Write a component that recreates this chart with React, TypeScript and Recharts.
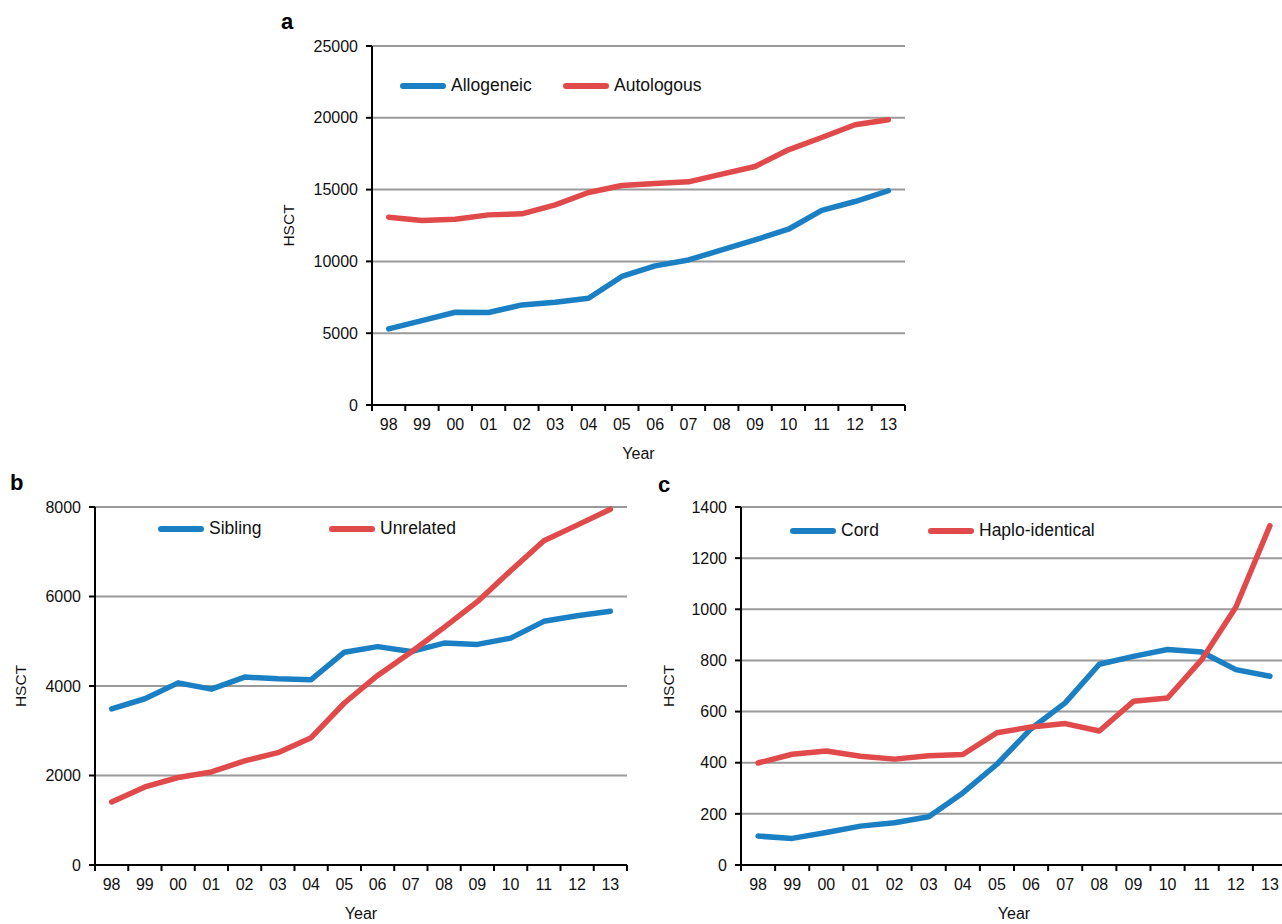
import React from 'react';
import { LineChart, Line, XAxis, YAxis, CartesianGrid, Legend } from 'recharts';

const years = ['98', '99', '00', '01', '02', '03', '04', '05', '06', '07', '08', '09', '10', '11', '12', '13'];

const allogeneic = [5300, 5880, 6460, 6440, 6970, 7160, 7430, 8950, 9690, 10100, 10800, 11500, 12240, 13550, 14170, 14920];
const autologous = [13080, 12850, 12940, 13240, 13310, 13940, 14800, 15290, 15430, 15540, 16080, 16610, 17770, 18630, 19520, 19870];

const sibling = [3490, 3715, 4070, 3930, 4200, 4160, 4140, 4755, 4880, 4770, 4960, 4930, 5070, 5445, 5570, 5670];
const unrelated = [1410, 1745, 1955, 2080, 2325, 2510, 2845, 3620, 4235, 4755, 5310, 5885, 6575, 7245, 7595, 7950];

const cord = [113, 104, 127, 152, 165, 189, 282, 394, 533, 634, 785, 816, 843, 833, 764, 738];
const haplo = [399, 433, 446, 425, 414, 427, 432, 517, 540, 553, 524, 640, 653, 803, 1008, 1327];

const ticksA = [0, 5000, 10000, 15000, 20000, 25000];
const ticksB = [0, 2000, 4000, 6000, 8000];
const ticksC = [0, 200, 400, 600, 800, 1000, 1200, 1400];

const BLUE = '#1b80c3';
const RED = '#e04a4a';
const FONT = '"Liberation Sans", Arial, sans-serif';

const bounds = Array.from({ length: years.length + 1 }, (_, i) => i);

function build(a: number[], b: number[], ka: string, kb: string) {
  return years.map((y, i) => ({ x: i + 0.5, year: y, [ka]: a[i], [kb]: b[i] }));
}

function YearTick(props: any) {
  const { x, y, payload, half } = props;
  if (payload.value >= years.length) return null;
  return (
    <text x={x + half} y={y + 17} textAnchor="middle" fontSize={16} fontFamily={FONT} fill="#111">
      {years[payload.value]}
    </text>
  );
}

function LegendRow(props: any) {
  const { payload, first } = props;
  return (
    <div style={{ display: 'flex', alignItems: 'center', fontFamily: FONT, fontSize: 17.5, color: '#111' }}>
      {payload.map((p: any, i: number) => (
        <div key={p.value} style={{ display: 'flex', alignItems: 'center', width: i === 0 ? first : 'auto' }}>
          <svg width={46} height={10}>
            <line x1={3} y1={5} x2={43} y2={5} stroke={p.color} strokeWidth={6} strokeLinecap="round" />
          </svg>
          <span style={{ marginLeft: 5 }}>{p.value}</span>
        </div>
      ))}
    </div>
  );
}

interface PanelProps {
  left: number;
  top: number;
  width: number;
  height: number;
  plotLeft: number;
  plotTop: number;
  plotRight: number;
  plotBottom: number;
  yWidth: number;
  data: any[];
  keys: [string, string];
  names: [string, string];
  ticks: number[];
  legendLeft: number;
  legendTop: number;
  legendFirst: number;
  letter: string;
  letterX: number;
  letterY: number;
}

function Panel(p: PanelProps) {
  const plotW = p.plotRight - p.plotLeft;
  const half = plotW / years.length / 2;
  const xHeight = 30;
  return (
    <div style={{ position: 'absolute', left: p.left, top: p.top, width: p.width, height: p.height }}>
      <div
        style={{
          position: 'absolute',
          left: p.letterX,
          top: p.letterY,
          fontFamily: FONT,
          fontWeight: 'bold',
          fontSize: 22,
          color: '#000',
          lineHeight: '22px',
        }}
      >
        {p.letter}
      </div>
      <LineChart
        width={p.width}
        height={p.height}
        data={p.data}
        margin={{
          top: p.plotTop,
          right: p.width - p.plotRight,
          bottom: p.height - p.plotBottom - xHeight,
          left: p.plotLeft - p.yWidth,
        }}
      >
        <CartesianGrid vertical={false} stroke="#9a9a9a" strokeWidth={2} />
        <XAxis
          dataKey="x"
          type="number"
          domain={[0, years.length]}
          ticks={bounds}
          interval={0}
          height={xHeight}
          axisLine={{ stroke: '#000', strokeWidth: 2 }}
          tickLine={{ stroke: '#000', strokeWidth: 2 }}
          tickSize={6}
          tick={<YearTick half={half} />}
          label={{ value: 'Year', position: 'bottom', offset: 13, fontSize: 16, fontFamily: FONT, fill: '#111' }}
        />
        <YAxis
          domain={[p.ticks[0], p.ticks[p.ticks.length - 1]]}
          ticks={p.ticks}
          interval={0}
          width={p.yWidth}
          axisLine={{ stroke: '#000', strokeWidth: 2 }}
          tickLine={{ stroke: '#000', strokeWidth: 2 }}
          tickSize={6}
          tickMargin={8}
          tick={{ fontSize: 16, fontFamily: FONT, fill: '#111' }}
          label={{
            value: 'HSCT',
            angle: -90,
            position: 'insideLeft',
            offset: 0,
            fontSize: 15.5,
            fontFamily: FONT,
            fill: '#111',
            style: { textAnchor: 'middle' },
          }}
        />
        <Legend
          layout="horizontal"
          verticalAlign="middle"
          align="center"
          wrapperStyle={{ left: p.legendLeft, top: p.legendTop, width: 'auto' }}
          content={<LegendRow first={p.legendFirst} />}
        />
        <Line
          dataKey={p.keys[0]}
          name={p.names[0]}
          stroke={BLUE}
          strokeWidth={5.5}
          dot={false}
          strokeLinecap="round"
          strokeLinejoin="round"
          isAnimationActive={false}
        />
        <Line
          dataKey={p.keys[1]}
          name={p.names[1]}
          stroke={RED}
          strokeWidth={5.5}
          dot={false}
          strokeLinecap="round"
          strokeLinejoin="round"
          isAnimationActive={false}
        />
      </LineChart>
    </div>
  );
}

export default function App() {
  const dataA = build(allogeneic, autologous, 'allo', 'auto');
  const dataB = build(sibling, unrelated, 'sib', 'unrel');
  const dataC = build(cord, haplo, 'cord', 'haplo');
  return (
    <div
      style={{
        position: 'absolute',
        left: 0,
        top: 0,
        width: 1282,
        height: 924,
        overflow: 'hidden',
        background: '#fff',
      }}
    >
      <Panel
        left={270}
        top={0}
        width={650}
        height={470}
        plotLeft={102}
        plotTop={46}
        plotRight={635}
        plotBottom={405}
        yWidth={84}
        data={dataA}
        keys={['allo', 'auto']}
        names={['Allogeneic', 'Autologous']}
        ticks={ticksA}
        legendLeft={130}
        legendTop={75}
        legendFirst={163}
        letter="a"
        letterX={11}
        letterY={11}
      />
      <Panel
        left={0}
        top={470}
        width={650}
        height={454}
        plotLeft={95}
        plotTop={37}
        plotRight={627}
        plotBottom={395}
        yWidth={75}
        data={dataB}
        keys={['sib', 'unrel']}
        names={['Sibling', 'Unrelated']}
        ticks={ticksB}
        legendLeft={158}
        legendTop={48}
        legendFirst={171}
        letter="b"
        letterX={10}
        letterY={2}
      />
      <Panel
        left={650}
        top={470}
        width={650}
        height={454}
        plotLeft={91}
        plotTop={37}
        plotRight={637}
        plotBottom={395}
        yWidth={73}
        data={dataC}
        keys={['cord', 'haplo']}
        names={['Cord', 'Haplo-identical']}
        ticks={ticksC}
        legendLeft={140}
        legendTop={50}
        legendFirst={138}
        letter="c"
        letterX={8}
        letterY={4}
      />
    </div>
  );
}
